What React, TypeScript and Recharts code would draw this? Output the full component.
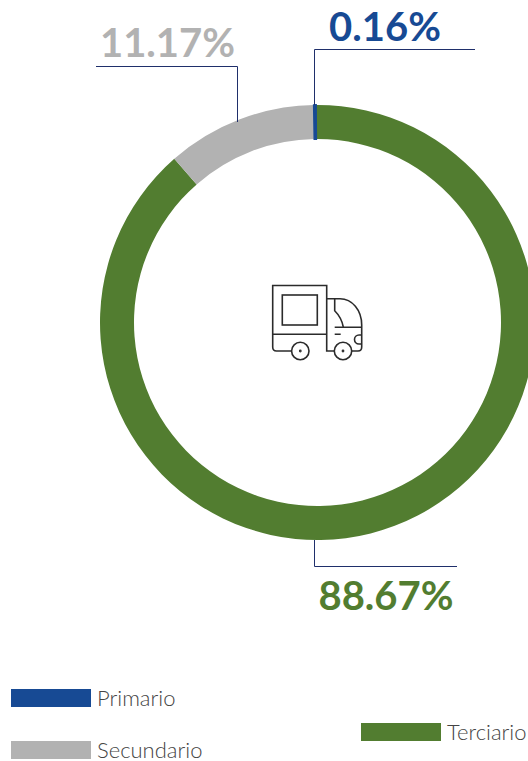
import { PieChart, Pie, Cell, Legend } from "recharts";

const names = ["Terciario", "Secundario", "Primario"];
const values = [88.67, 11.17, 0.16];
const colors = ["#527d30", "#b2b2b2", "#174a94"];

const data = names.map((name, i) => ({ name, value: values[i] }));

const LINE = "#1f2f6b";
const FONT = "Lato, 'Noto Sans', sans-serif";

// leader lines and value labels, in page pixels
const callouts: Record<string, { line: string; x: number; y: number }> = {
  Primario: { line: "314.5,105 314.5,49.5 475,49.5", x: 385, y: 41 },
  Secundario: { line: "237.5,122 237.5,66.5 96,66.5", x: 167.5, y: 57 },
  Terciario: { line: "314.5,540 314.5,566.5 457,566.5", x: 386, y: 610 },
};

const legendBoxes: Record<string, { x: number; y: number }> = {
  Primario: { x: 11, y: 689 },
  Secundario: { x: 11, y: 741 },
  Terciario: { x: 361, y: 723 },
};

function renderLabel(props: any) {
  const c = callouts[props.name];
  return (
    <g key={props.name}>
      <polyline points={c.line} fill="none" stroke={LINE} strokeWidth={1} />
      <text
        x={c.x}
        y={c.y}
        textAnchor="middle"
        fontFamily={FONT}
        fontWeight={700}
        fontSize={40}
        fill={colors[names.indexOf(props.name)]}
      >
        {props.value.toFixed(2)}%
      </text>
    </g>
  );
}

function LegendBlocks() {
  return (
    <div>
      {names.map((name, i) => (
        <div
          key={name}
          style={{
            position: "absolute",
            left: legendBoxes[name].x,
            top: legendBoxes[name].y,
            display: "flex",
            alignItems: "center",
            height: 18,
            whiteSpace: "nowrap",
          }}
        >
          <div style={{ width: 80, height: 18, background: colors[i] }} />
          <span
            style={{
              marginLeft: 6,
              fontFamily: FONT,
              fontWeight: 300,
              fontSize: 22,
              lineHeight: "18px",
              color: "#444",
            }}
          >
            {name}
          </span>
        </div>
      ))}
    </div>
  );
}

function Truck() {
  return (
    <g fill="none" stroke="#2b2b2b" strokeWidth={1.6}>
      <path d="M291.5 351H276.5Q272.7 351 272.7 347V285.5H326.7V351H334" />
      <rect x={282.3} y={295} width={35} height={30} />
      <path d="M272.7 334.3H326.7" />
      <path d="M326.7 298.7H340C352 298.7 361.7 310 361.7 325V347Q361.7 351 358 351H352" />
      <path d="M334.7 298.7V310.7C339 315 342 320 343.3 327" />
      <path d="M334.7 327.3H361.7M334.7 334.3H340.7" />
      <path d="M361.7 335H359A4.5 4.5 0 0 0 359 344H361.7" />
      <circle cx={300.3} cy={351} r={8.7} />
      <circle cx={343} cy={351} r={8.7} />
      <circle cx={300.3} cy={351} r={0.6} />
      <circle cx={343} cy={351} r={0.6} />
    </g>
  );
}

export default function App() {
  return (
    <div style={{ position: "absolute", left: 0, top: 0, width: 528, height: 761, overflow: "hidden" }}>
      <PieChart width={528} height={761} margin={{ top: 0, right: 0, bottom: 0, left: 0 }}>
        <Pie
          data={data}
          dataKey="value"
          nameKey="name"
          cx={317.5}
          cy={322.5}
          innerRadius={183.5}
          outerRadius={217.5}
          startAngle={90.4}
          endAngle={-269.6}
          paddingAngle={0}
          stroke="none"
          label={renderLabel}
          labelLine={false}
          isAnimationActive={false}
        >
          {data.map((entry, index) => (
            <Cell
              key={`cell-${index}`}
              fill={colors[index]}
              stroke={entry.name === "Primario" ? colors[index] : "none"}
              strokeWidth={entry.name === "Primario" ? 1.8 : 0}
            />
          ))}
        </Pie>
        <Truck />
        <Legend content={LegendBlocks} wrapperStyle={{ left: 0, top: 0, width: 528, height: 0 }} />
      </PieChart>
    </div>
  );
}
